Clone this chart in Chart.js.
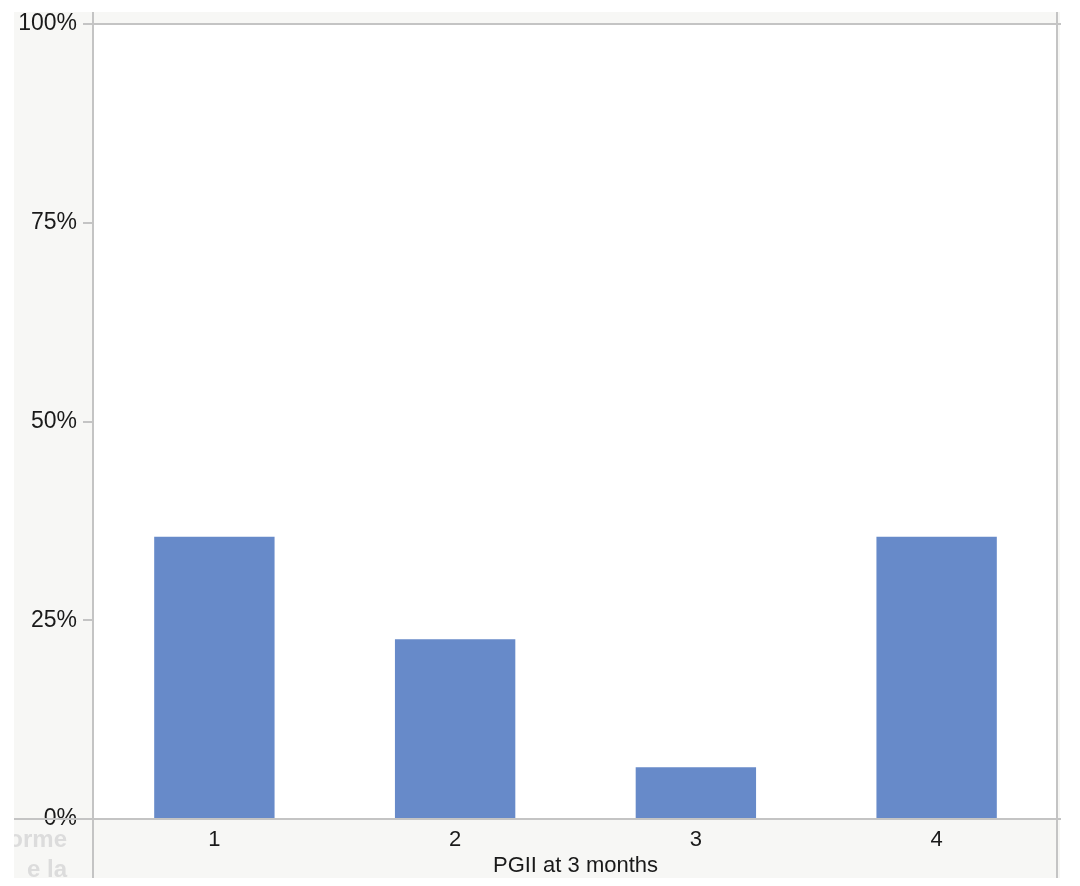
<!DOCTYPE html>
<html>
<head>
<meta charset="utf-8">
<script src="https://cdn.jsdelivr.net/npm/chart.js@4.4.1/dist/chart.umd.min.js"></script>
<style>
  html, body { margin: 0; padding: 0; background: #fff; }
  #wrap { width: 1080px; height: 886px; }
</style>
</head>
<body>
<div id="wrap"><canvas id="pgiiChart" width="1080" height="886"></canvas></div>
<script>
const categories = ["1", "2", "3", "4"];
const percents = [35.5, 22.6, 6.5, 35.5];
const yTicks = [0, 25, 50, 75, 100];

const axisGrey = "#c4c4c4";
const fontFamily = "'Liberation Sans', Arial, Helvetica, sans-serif";

// grey frame, white plot area, extended border lines
const framePlugin = {
  id: "frame",
  beforeDraw(chart) {
    const { ctx, chartArea: a } = chart;
    ctx.save();
    ctx.fillStyle = "#f7f7f5";
    ctx.fillRect(14, 12, 1046, 866);
    ctx.fillStyle = "#ffffff";
    ctx.fillRect(a.left, a.top, a.right - a.left, a.bottom - a.top);

    // faint cut-off text left over at the edge
    ctx.beginPath();
    ctx.rect(14, 824, 80, 54);
    ctx.clip();
    ctx.fillStyle = "#dcdcdc";
    ctx.font = "bold 24px " + fontFamily;
    ctx.textAlign = "right";
    ctx.fillText("orme", 67, 847);
    ctx.fillText("e la", 67, 877);
    ctx.restore();
  },
  afterDraw(chart) {
    const { ctx, chartArea: a } = chart;
    ctx.save();
    ctx.strokeStyle = axisGrey;
    ctx.lineWidth = 2;
    ctx.beginPath();
    ctx.moveTo(a.left - 1, 12); ctx.lineTo(a.left - 1, 878);
    ctx.moveTo(a.right, 12); ctx.lineTo(a.right, 878);
    ctx.moveTo(a.left - 1, a.top); ctx.lineTo(a.right + 4, a.top);
    ctx.moveTo(14, a.bottom); ctx.lineTo(a.right + 4, a.bottom);
    ctx.stroke();
    ctx.restore();
  }
};

const ctx = document.getElementById("pgiiChart").getContext("2d");
new Chart(ctx, {
  type: "bar",
  data: {
    labels: categories,
    datasets: [{
      data: percents,
      backgroundColor: "#678ac9",
      borderWidth: 0,
      barPercentage: 0.5,
      categoryPercentage: 1.0
    }]
  },
  options: {
    responsive: false,
    animation: false,
    layout: { padding: { left: 0, right: 23, top: 24, bottom: 0 } },
    plugins: {
      legend: { display: false },
      tooltip: { enabled: false }
    },
    scales: {
      x: {
        grid: { display: false },
        border: { display: false },
        ticks: {
          color: "#1a1a1a",
          font: { family: fontFamily, size: 22 },
          padding: 0
        },
        title: {
          display: true,
          text: "PGII at 3 months",
          color: "#1a1a1a",
          font: { family: fontFamily, size: 22 },
          padding: { top: 0, bottom: 7 }
        },
        afterFit(scale) { scale.height = 67; }
      },
      y: {
        min: 0,
        max: 100,
        afterBuildTicks(scale) { scale.ticks = yTicks.map(v => ({ value: v })); },
        grid: {
          drawOnChartArea: false,
          drawTicks: true,
          tickLength: 11,
          color: axisGrey,
          lineWidth: 2
        },
        border: { display: false },
        ticks: {
          color: "#1a1a1a",
          font: { family: fontFamily, size: 23 },
          padding: 6,
          callback: v => v + "%"
        },
        afterFit(scale) { scale.width = 94; }
      }
    }
  },
  plugins: [framePlugin]
});
</script>
</body>
</html>
